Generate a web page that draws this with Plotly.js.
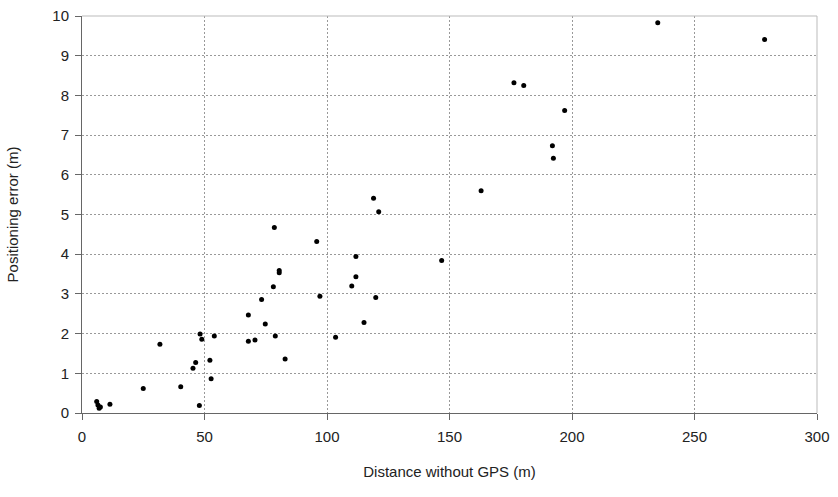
<!DOCTYPE html>
<html>
<head>
<meta charset="utf-8">
<script src="https://cdn.plot.ly/plotly-3.0.1.min.js"></script>
<style>html,body{margin:0;padding:0;background:#fff;}#chart{width:838px;height:497px;}</style>
</head>
<body>
<div id="chart"></div>
<script>
const distance = [235.0, 278.6, 176.3, 180.3, 197.0, 192.0, 192.4, 162.9, 146.8,
  119.0, 121.1, 78.5, 95.8, 111.8, 80.5, 80.5, 111.8, 110.1, 78.1, 73.3, 97.1, 119.9,
  67.9, 74.8, 115.1, 48.2, 48.9, 54.0, 78.9, 67.9, 70.6, 103.5, 52.2, 82.9, 52.7,
  31.8, 46.4, 45.3, 25.0, 40.3, 6.0, 6.5, 7.0, 7.5, 11.4, 47.9];
const posError = [9.83, 9.41, 8.32, 8.25, 7.62, 6.73, 6.42, 5.60, 3.84,
  5.41, 5.07, 4.67, 4.32, 3.94, 3.59, 3.53, 3.43, 3.20, 3.18, 2.86, 2.94, 2.91,
  2.47, 2.24, 2.28, 1.99, 1.86, 1.94, 1.94, 1.81, 1.84, 1.91, 1.33, 1.36, 0.86,
  1.73, 1.27, 1.13, 0.62, 0.66, 0.29, 0.20, 0.12, 0.15, 0.22, 0.19];
const xTicks = [0, 50, 100, 150, 200, 250, 300];
const yTicks = [0, 1, 2, 3, 4, 5, 6, 7, 8, 9, 10];

const trace = {
  x: distance, y: posError, type: 'scatter', mode: 'markers',
  marker: {color: '#000', size: 5}
};
const font = {family: 'Liberation Sans, Arial, sans-serif', size: 15, color: '#222'};
const layout = {
  width: 838, height: 497,
  margin: {l: 82, r: 21, t: 16, b: 84},
  paper_bgcolor: '#fff', plot_bgcolor: '#fff',
  font: font,
  showlegend: false,
  xaxis: {
    range: [0, 300], tickvals: xTicks, ticktext: xTicks.map(String),
    showgrid: true, gridcolor: '#999', griddash: '2px,2px', gridwidth: 1,
    showline: true, linecolor: '#666', linewidth: 1, mirror: false,
    ticks: 'outside', ticklen: 6, tickcolor: '#666', zeroline: false,
    ticklabelstandoff: 4,
    title: {text: 'Distance without GPS (m)', font: font, standoff: 22}
  },
  yaxis: {
    range: [0, 10], tickvals: yTicks, ticktext: yTicks.map(String),
    showgrid: true, gridcolor: '#999', griddash: '2px,2px', gridwidth: 1,
    showline: true, linecolor: '#666', linewidth: 1,
    ticks: 'outside', ticklen: 6, tickcolor: '#666', zeroline: false,
    ticklabelstandoff: 3,
    title: {text: 'Positioning error (m)', font: font, standoff: 30}
  },
  shapes: [
    {type: 'line', xref: 'paper', yref: 'paper', x0: 0, x1: 1, y0: 1, y1: 1, line: {color: '#bbb', width: 1}},
    {type: 'line', xref: 'paper', yref: 'paper', x0: 1, x1: 1, y0: 0, y1: 1, line: {color: '#bbb', width: 1}}
  ]
};
Plotly.newPlot('chart', [trace], layout, {displayModeBar: false, staticPlot: true});
</script>
</body>
</html>
